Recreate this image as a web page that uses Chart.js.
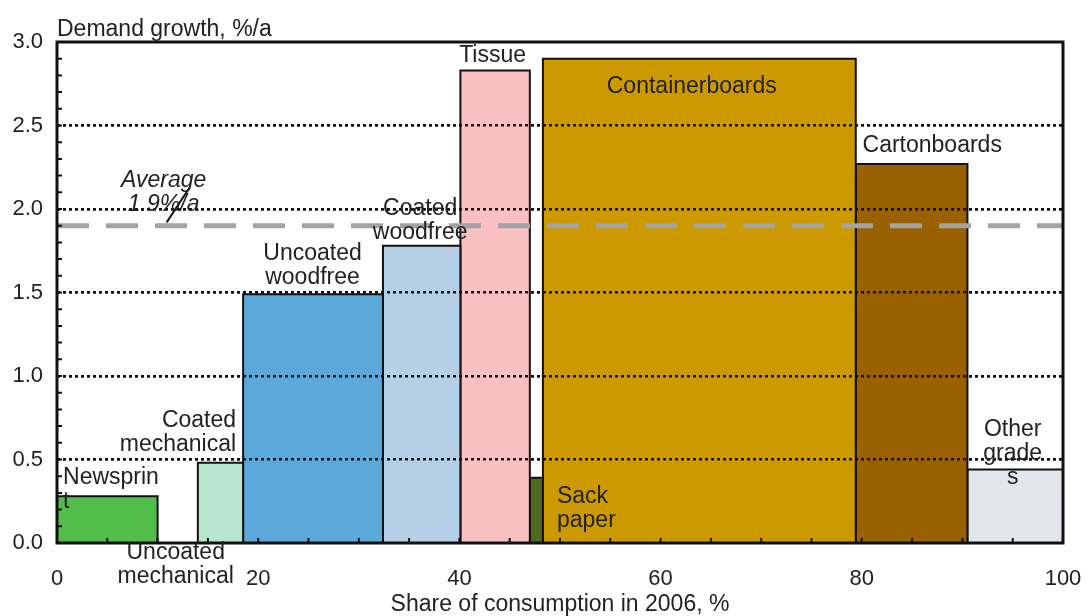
<!DOCTYPE html>
<html>
<head>
<meta charset="utf-8">
<script src="https://cdn.jsdelivr.net/npm/chart.js@4"></script>
<style>
  body { margin: 0; background: #fff; }
  #wrap { width: 1088px; height: 616px; }
</style>
</head>
<body>
<div id="wrap"><canvas id="myChart"></canvas></div>
<script>
// paper grades, share of consumption (x, %) and demand growth (y, %/a)
const categories = ['Newsprint', 'Uncoated mechanical', 'Coated mechanical', 'Uncoated woodfree', 'Coated woodfree', 'Tissue', 'Sack paper', 'Containerboards', 'Cartonboards', 'Other grades']
const shareStart = [0, 10.0, 14.0, 18.5, 32.4, 40.1, 47.0, 48.3, 79.4, 90.5]
const shareEnd = [10.0, 14.0, 18.5, 32.4, 40.1, 47.0, 48.3, 79.4, 90.5, 100]
const growth = [0.28, 0, 0.48, 1.49, 1.78, 2.83, 0.39, 2.90, 2.27, 0.44]
const averageGrowth = 1.9
const xTicks = [0, 20, 40, 60, 80, 100]
const yTicks = [0, 0.5, 1.0, 1.5, 2.0, 2.5, 3.0]

const colors = ['#53bd4b', '#ffffff', '#b8e5d0', '#5aa9da', '#b4cfe6', '#f9c0c1', '#4f6b1c', '#cc9900', '#9a6100', '#e3e6ea']
const FONT = '"Liberation Sans", Arial, sans-serif'

// text labels, placed in data units
const labels = [
    { lines: ['Newsprin', 't'], x: 0.6, y: 0.39, align: 'left' },
    { lines: ['Uncoated', 'mechanical'], x: 11.8, y: -0.055, align: 'center' },
    { lines: ['Coated', 'mechanical'], x: 17.8, y: 0.73, align: 'right' },
    { lines: ['Uncoated', 'woodfree'], x: 25.4, y: 1.73, align: 'center' },
    { lines: ['Coated', 'woodfree'], x: 36.1, y: 2.0, align: 'center' },
    { lines: ['Tissue'], x: 43.3, y: 2.92, align: 'center' },
    { lines: ['Containerboards'], x: 63.1, y: 2.73, align: 'center' },
    { lines: ['Sack', 'paper'], x: 49.7, y: 0.275, align: 'left' },
    { lines: ['Cartonboards'], x: 87.0, y: 2.38, align: 'center' },
    { lines: ['Other', 'grade', 's'], x: 95.0, y: 0.68, align: 'center' },
    { lines: ['Average', '1.9%/a'], x: 10.6, y: 2.17, align: 'center', italic: true }
]

const rectData = (i) => [
    { x: shareStart[i], y: 0 },
    { x: shareStart[i], y: growth[i] },
    { x: shareEnd[i], y: growth[i] },
    { x: shareEnd[i], y: 0 }
]

const datasets = categories.map((c, i) => ({
    label: c,
    data: rectData(i),
    order: 1,
    showLine: true,
    fill: 'origin',
    backgroundColor: colors[i],
    borderColor: '#111',
    borderWidth: growth[i] > 0 ? 2 : 0,
    borderJoinStyle: 'miter',
    pointRadius: 0,
    tension: 0
}))

datasets.push({
    label: 'Average',
    data: [{ x: 0, y: averageGrowth }, { x: 100, y: averageGrowth }],
    order: 0,
    showLine: true,
    fill: false,
    borderColor: '#a3a3a3',
    borderWidth: 5,
    borderDash: [32, 17],
    borderCapStyle: 'butt',
    pointRadius: 0
})

const annoPlugin = {
    id: 'anno',
    afterDatasetsDraw(chart) {
        // dotted grid sits on top of the bars
        chart.scales.y.drawGrid(chart.chartArea)
    },
    afterDraw(chart) {
        const ctx = chart.ctx
        const xs = chart.scales.x
        const ys = chart.scales.y
        const a = chart.chartArea
        ctx.save()

        // minor inward ticks
        ctx.strokeStyle = '#111'
        ctx.lineWidth = 2
        ctx.beginPath()
        for (let v = 5; v < 100; v += 5) {
            const px = xs.getPixelForValue(v)
            ctx.moveTo(px, a.bottom)
            ctx.lineTo(px, a.bottom - 5)
        }
        for (let v = 1; v < 30; v++) {
            const py = ys.getPixelForValue(v / 10)
            ctx.moveTo(a.left, py)
            ctx.lineTo(a.left + 5, py)
        }
        ctx.stroke()

        // frame
        ctx.lineWidth = 3
        ctx.strokeRect(a.left, a.top, a.right - a.left, a.bottom - a.top)

        // pointer stroke of the average label
        ctx.lineWidth = 2
        ctx.beginPath()
        ctx.moveTo(xs.getPixelForValue(10.9), ys.getPixelForValue(1.92))
        ctx.lineTo(xs.getPixelForValue(13.2), ys.getPixelForValue(2.13))
        ctx.stroke()

        // texts
        ctx.fillStyle = '#222'
        ctx.textBaseline = 'middle'
        labels.forEach(l => {
            ctx.font = (l.italic ? 'italic ' : '') + '23px ' + FONT
            ctx.textAlign = l.align
            const px = xs.getPixelForValue(l.x)
            const py = ys.getPixelForValue(l.y)
            l.lines.forEach((t, k) => ctx.fillText(t, px, py + k * 24))
        })

        ctx.font = '23px ' + FONT
        ctx.textAlign = 'left'
        ctx.textBaseline = 'alphabetic'
        ctx.fillText('Demand growth, %/a', a.left, a.top - 6)
        ctx.restore()
    }
}

const ctx = document.getElementById('myChart').getContext('2d')
const myChart = new Chart(ctx, {
    type: 'scatter',
    data: { datasets },
    options: {
        responsive: true,
        maintainAspectRatio: false,
        animation: false,
        layout: { padding: { top: 42, right: 25, left: 0, bottom: 0 } },
        plugins: {
            legend: { display: false },
            tooltip: { enabled: false }
        },
        scales: {
            x: {
                type: 'linear',
                min: 0,
                max: 100,
                afterBuildTicks: s => { s.ticks = xTicks.map(v => ({ value: v })) },
                afterFit: s => { s.height = 73; s.paddingLeft = 0; s.paddingRight = 0 },
                ticks: { font: { family: FONT, size: 22 }, color: '#222', padding: 15, maxRotation: 0 },
                grid: { display: false },
                border: { display: false },
                title: { display: true, text: 'Share of consumption in 2006, %', font: { family: FONT, size: 23, lineHeight: 1 }, color: '#222', padding: { top: 0, bottom: 0 } }
            },
            y: {
                min: 0,
                max: 3,
                afterBuildTicks: s => { s.ticks = yTicks.map(v => ({ value: v })) },
                afterFit: s => { s.width = 57; s.paddingTop = 0; s.paddingBottom = 0 },
                ticks: { font: { family: FONT, size: 22 }, color: '#222', padding: 14, callback: v => v.toFixed(1) },
                grid: {
                    drawTicks: false,
                    lineWidth: 2.5,
                    color: c => (c.tick && (c.tick.value === 0 || c.tick.value === 3)) ? 'rgba(0,0,0,0)' : '#111'
                },
                border: { display: false, dash: [3, 3] }
            }
        }
    },
    plugins: [annoPlugin]
})
</script>
</body>
</html>
